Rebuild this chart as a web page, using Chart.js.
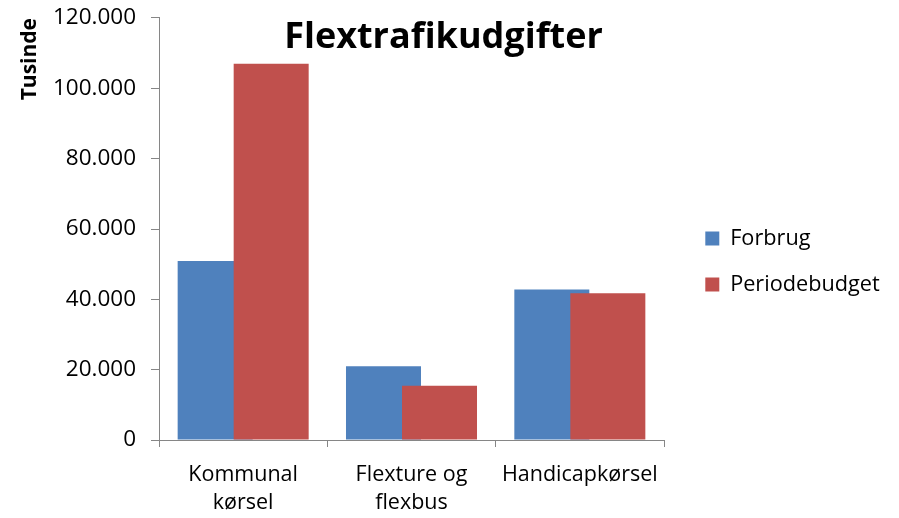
<!DOCTYPE html>
<html>
<head>
<meta charset="utf-8">
<script src="https://cdn.jsdelivr.net/npm/chart.js@4/dist/chart.umd.min.js"></script>
<style>
  html, body { margin: 0; padding: 0; background: #ffffff; }
  #wrap { width: 899px; height: 518px; }
</style>
</head>
<body>
<div id="wrap"><canvas id="c" width="899" height="518"></canvas></div>
<script>
const chartTitle = "Flextrafikudgifter";
const yAxisTitle = "Tusinde";
const categories = [["Kommunal", "kørsel"], ["Flexture og", "flexbus"], ["Handicapkørsel"]];
const seriesNames = ["Forbrug", "Periodebudget"];
const forbrug = [50900, 21000, 42800];
const periodebudget = [107000, 15400, 41700];
const yTicks = { min: 0, max: 120000, step: 20000 };

const FONT = "'Open Sans', 'Noto Sans', sans-serif";
const AXIS_GRAY = "#868686";

function fmtThousands(v) {
  return String(Math.round(v)).replace(/\B(?=(\d{3})+(?!\d))/g, ".");
}

// Draw the first series underneath the second (Excel overlap look)
const drawOrderPlugin = {
  id: "drawOrder",
  beforeDatasetDraw(chart, args) {
    if (args.index === 0) return false;
    if (args.index === 1) {
      const m0 = chart.getDatasetMeta(0);
      if (m0 && !m0.hidden) m0.controller.draw();
    }
    return true;
  }
};

Chart.defaults.color = "#000";
Chart.defaults.font.family = FONT;

new Chart(document.getElementById("c"), {
  type: "bar",
  data: {
    labels: categories,
    datasets: [
      { label: seriesNames[0], data: forbrug, backgroundColor: "#4F81BD", borderWidth: 0 },
      { label: seriesNames[1], data: periodebudget, backgroundColor: "#C0504D", borderWidth: 0 }
    ]
  },
  options: {
    responsive: false,
    animation: false,
    devicePixelRatio: 1,
    categoryPercentage: 0.6655,
    barPercentage: 1.339,
    layout: { padding: { left: 0, right: 12, top: 5, bottom: 0 } },
    plugins: {
      tooltip: { enabled: false },
      title: {
        display: true,
        text: chartTitle,
        color: "#000",
        font: { family: FONT, size: 36, weight: "bold", lineHeight: 1.2 },
        padding: { top: 11.4, bottom: -41.6 }
      },
      legend: {
        display: true,
        position: "right",
        align: "center",
        maxWidth: 206,
        labels: {
          color: "#000",
          boxWidth: 14,
          boxHeight: 14,
          padding: 24.3,
          font: { family: FONT, size: 21.7 }
        }
      }
    },
    scales: {
      x: {
        type: "category",
        grid: { display: true, offset: true, drawOnChartArea: false, drawTicks: true, tickLength: 7, color: AXIS_GRAY, lineWidth: 1 },
        border: { display: true, color: AXIS_GRAY, width: 1 },
        ticks: { color: "#000", font: { family: FONT, size: 21.5, lineHeight: 1.3 }, padding: 14, autoSkip: false, maxRotation: 0, minRotation: 0 },
        afterFit(s) { s.height = 78; }
      },
      y: {
        type: "linear",
        position: "left",
        min: yTicks.min,
        max: yTicks.max,
        ticks: {
          stepSize: yTicks.step,
          color: "#000",
          font: { family: FONT, size: 22.5 },
          padding: 15,
          callback: (v) => fmtThousands(v)
        },
        grid: { display: true, drawOnChartArea: false, drawTicks: true, tickLength: 8, color: AXIS_GRAY, lineWidth: 1 },
        border: { display: true, color: AXIS_GRAY, width: 1 },
        title: {
          display: true,
          text: yAxisTitle,
          align: "end",
          color: "#000",
          font: { family: FONT, size: 21, weight: "bold", lineHeight: 1.2 },
          padding: { top: 17, bottom: 0 }
        },
        afterFit(s) { s.width = 159; s.paddingTop = 0; s.paddingBottom = 0; }
      },
      gap: {
        type: "linear",
        position: "right",
        display: true,
        grid: { display: false },
        border: { display: false },
        ticks: { display: false },
        afterFit(s) { s.width = 17; }
      }
    }
  },
  plugins: [drawOrderPlugin]
});
</script>
</body>
</html>
